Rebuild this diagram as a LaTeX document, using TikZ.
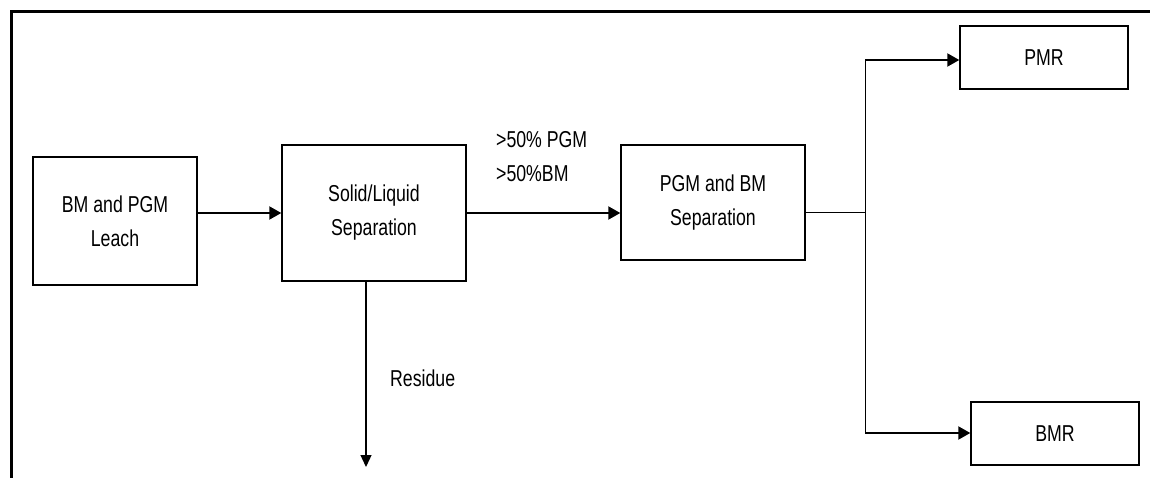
\documentclass[tikz,border=0pt]{standalone}
\usepackage{fontspec}
\setmainfont{Liberation Sans}[FakeStretch=0.77]
\usetikzlibrary{arrows.meta}
\begin{document}
\begin{tikzpicture}[x=1pt,y=1pt,
  every node/.style={font=\fontsize{23}{34}\selectfont, align=center},
  procbox/.style={draw, line width=1.4pt, inner sep=0pt},
  arr/.style={line width=2pt, -{Triangle[length=12pt,width=13pt]}},
  thinline/.style={line width=1pt}]
\useasboundingbox (0,0) rectangle (1150,-478);
\draw[line width=3pt] (11,-478) -- (11,-12) -- (1150,-12);
\node[procbox, minimum width=164pt, minimum height=128pt] (b1) at (115,-221) {BM and PGM\\Leach};
\node[procbox, minimum width=184pt, minimum height=136pt] (b2) at (374,-213) {Solid/Liquid\\Separation};
\node[procbox, minimum width=184pt, minimum height=115pt] (b3) at (713,-202.5) {PGM and BM\\Separation};
\node[procbox, minimum width=168pt, minimum height=63pt] (pmr) at (1044,-57.5) {PMR};
\node[procbox, minimum width=168pt, minimum height=63pt] (bmr) at (1055,-433.5) {BMR};
\node[anchor=north west, align=left, inner sep=0pt] (lab) at (496,-131) {>50\% PGM\\>50\%BM};
\node[anchor=west, inner sep=0pt] (res) at (390,-378) {Residue};
\coordinate (j) at (865,-213);
\coordinate (resend) at (366,-467);
\draw[arr] ([yshift=8pt]b1.east) -- (b2.west);
\draw[arr] (b2.east) -- (b3.west |- b2.east);
\draw[thinline] (b3.east |- b2.east) -- (j);
\draw[thinline] (j) -- (865,-60);
\draw[thinline] (j) -- (865,-433);
\draw[arr] (865,-60) -- (pmr.west |- 0,-60);
\draw[arr] (865,-433) -- (bmr.west |- 0,-433);
\draw[line width=1.3pt, -{Triangle[length=12pt,width=11pt]}] (resend |- b2.south) -- (resend);
\end{tikzpicture}
\end{document}
